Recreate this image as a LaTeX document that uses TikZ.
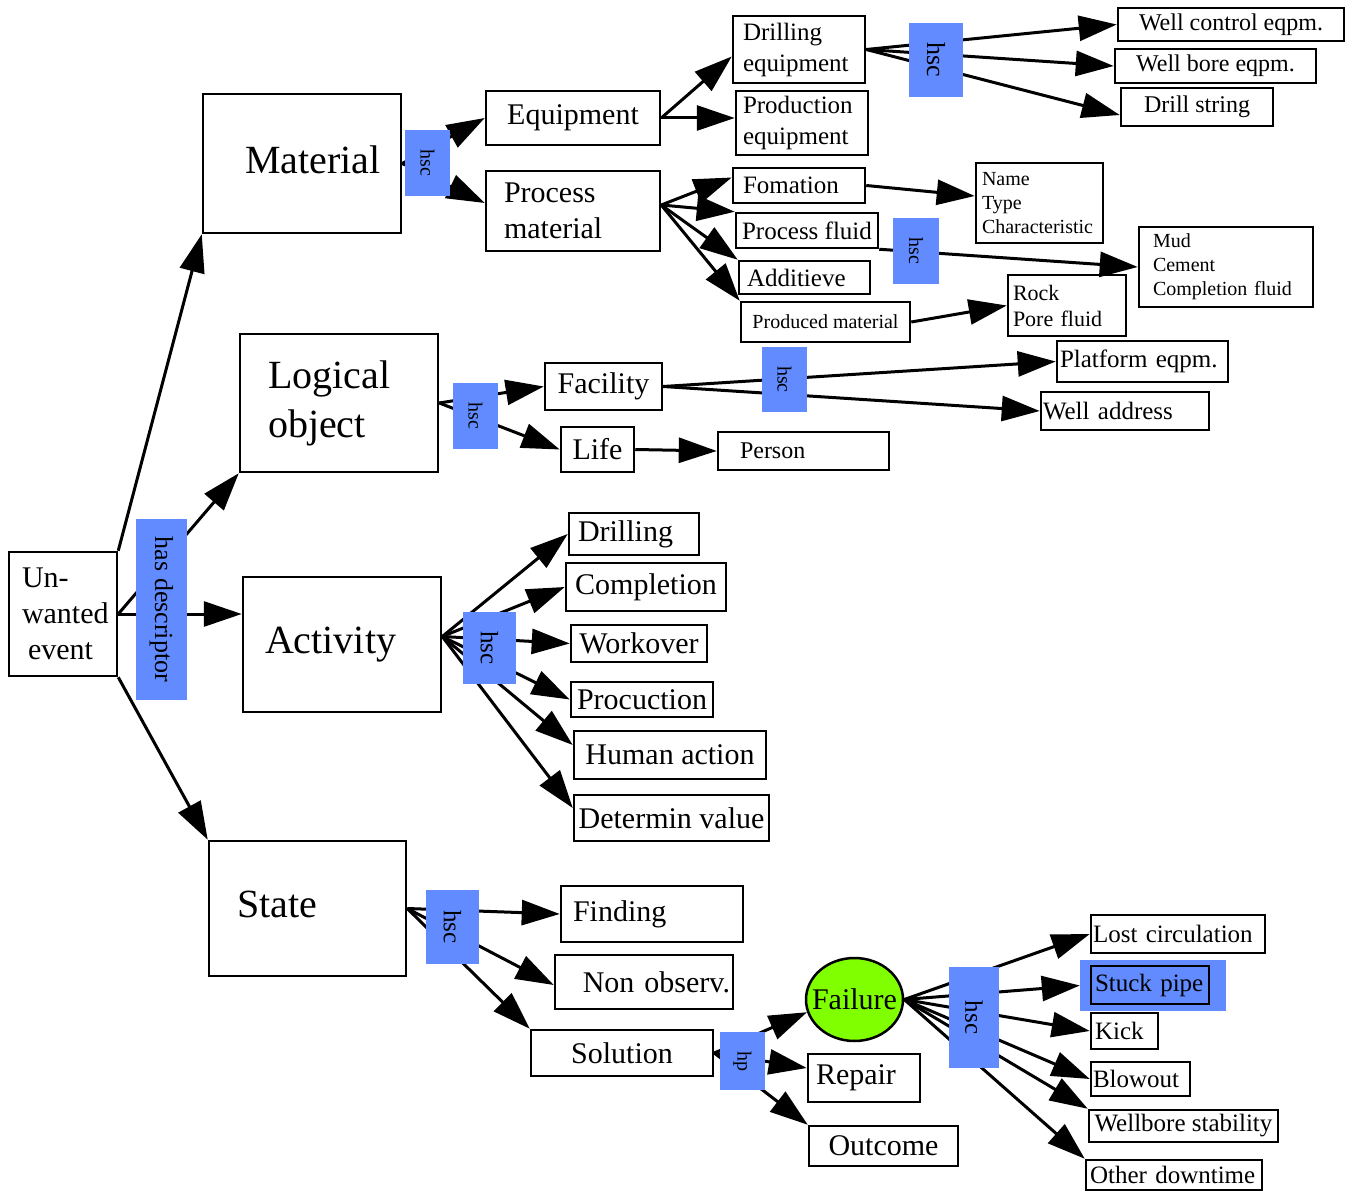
\documentclass[tikz,border=0pt]{standalone}
\usepackage{fontspec}
\setmainfont{Liberation Serif}
\usetikzlibrary{arrows.meta, shapes.geometric}
\definecolor{hscblue}{RGB}{97, 139, 255}
\definecolor{failgreen}{RGB}{127, 255, 0}
\newcommand{\fsz}[2]{\fontsize{#1pt}{#2pt}\selectfont}

\begin{document}
\begin{tikzpicture}[x=1pt, y=-1pt,
  box/.style={draw, line width=2.5pt, fill=white, inner sep=0pt, align=left},
  hscbox/.style={fill=hscblue, inner sep=0pt, rotate=-90},
  arr/.style={line width=3pt, -{Triangle[length=38pt, width=25pt]}}]
  \useasboundingbox[fill=white] (0,0) rectangle (1345,1198);

  % root and descriptors
  \node[box, text width=82pt, inner xsep=13pt, minimum height=124pt, font=\fsz{30}{36}] (ue) at (63,614) {Un-\\wanted\\\hspace*{6pt}event};
  \node[box, text width=114pt, inner xsep=42pt, minimum height=139pt, font=\fsz{40}{44}] (mat) at (302,163.5) {\raisebox{8pt}{Material}};
  \node[box, text width=142pt, inner xsep=28pt, minimum height=138pt, font=\fsz{40}{49}] (lo) at (339,403) {Logical\\object};
  \node[box, text width=154pt, inner xsep=22pt, minimum height=135pt, font=\fsz{40}{44}] (act) at (342,644.5) {Activity};
  \node[box, text width=141pt, inner xsep=28pt, minimum height=135pt, font=\fsz{40}{44}] (st) at (307.5,908.5) {\raisebox{9pt}{State}};

  % material
  \node[box, minimum width=174pt, minimum height=54pt, font=\fsz{30}{35}] (eq) at (573,118) {Equipment};
  \node[box, text width=138pt, inner xsep=18pt, minimum height=80pt, font=\fsz{30}{36}] (pm) at (573,211) {Process\\material};
  \node[box, text width=112pt, inner xsep=10pt, minimum height=67pt, font=\fsz{25}{31}] (de) at (799,49.5) {Drilling\\equipment};
  \node[box, text width=118pt, inner xsep=7pt, minimum height=64pt, font=\fsz{25}{31}] (pe) at (802,123) {Production\\equipment};
  \node[box, minimum width=226pt, minimum height=33pt, font=\fsz{24}{29}] (wc) at (1231,24.5) {Well control eqpm.};
  \node[box, minimum width=201pt, minimum height=34pt, font=\fsz{24}{29}] (wb) at (1215.5,66) {Well bore eqpm.};
  \node[box, minimum width=152pt, minimum height=38pt, font=\fsz{24}{29}] (ds) at (1197,107) {Drill string};
  \node[box, text width=112pt, inner xsep=10pt, minimum height=35pt, font=\fsz{25}{30}] (fo) at (799,185.5) {Fomation};
  \node[box, minimum width=142pt, minimum height=35pt, font=\fsz{25}{30}] (pf) at (807,230.5) {Process fluid};
  \node[box, text width=115pt, inner xsep=8pt, minimum height=33pt, font=\fsz{25}{30}] (ad) at (804.5,277.5) {Additieve};
  \node[box, minimum width=169pt, minimum height=40pt, font=\fsz{20}{24}] (pdm) at (825.5,322) {Produced material};
  \node[box, text width=115pt, inner xsep=6pt, minimum height=80pt, font=\fsz{20}{24}] (ntc) at (1039.5,203) {Name\\Type\\Characteristic};
  \node[box, text width=146pt, inner xsep=14pt, minimum height=80pt, font=\fsz{20}{24}] (mcc) at (1226,267) {Mud\\Cement\\Completion fluid};
  \node[box, text width=108pt, inner xsep=5pt, minimum height=61pt, font=\fsz{22}{26}] (rp) at (1067,305.5) {Rock\\Pore fluid};

  % logical object
  \node[box, minimum width=117pt, minimum height=47pt, font=\fsz{30}{35}] (fa) at (603.5,386.5) {Facility};
  \node[box, minimum width=73pt, minimum height=45pt, font=\fsz{30}{35}] (li) at (597.5,449.5) {Life};
  \node[box, text width=127pt, inner xsep=22pt, minimum height=38pt, font=\fsz{24}{29}] (pers) at (803.5,451) {Person};
  \node[box, text width=165pt, inner xsep=3pt, minimum height=41pt, font=\fsz{25}{30}] (pl) at (1142.5,361.5) {Platform eqpm.};
  \node[box, text width=164pt, inner xsep=2pt, minimum height=38pt, font=\fsz{25}{30}] (wa) at (1125,411) {Well address};

  % activity
  \node[box, text width=112pt, inner xsep=9pt, minimum height=42pt, font=\fsz{30}{35}] (dr) at (634,534) {Drilling};
  \node[box, minimum width=160pt, minimum height=48pt, font=\fsz{30}{35}] (co) at (646,587) {Completion};
  \node[box, minimum width=136pt, minimum height=37pt, font=\fsz{30}{35}] (wo) at (639,643.5) {Workover};
  \node[box, minimum width=142pt, minimum height=35pt, font=\fsz{30}{35}] (prc) at (642,699.5) {Procuction};
  \node[box, minimum width=192pt, minimum height=48pt, font=\fsz{30}{35}] (ha) at (670,755) {Human action};
  \node[box, minimum width=195pt, minimum height=46pt, font=\fsz{30}{35}] (dv) at (671.5,818) {Determin value};

  % state
  \node[box, text width=158pt, inner xsep=12pt, minimum height=56pt, font=\fsz{30}{35}] (fi) at (652,914) {Finding};
  \node[box, text width=172pt, inner xsep=3pt, align=right, minimum height=54pt, font=\fsz{30}{35}] (no) at (644,982) {Non observ.};
  \node[box, minimum width=182pt, minimum height=46pt, font=\fsz{30}{35}] (so) at (622,1053) {Solution};
  \node[ellipse, draw, line width=2.5pt, fill=failgreen, minimum width=97pt, minimum height=83pt, inner sep=0pt, font=\fsz{30}{35}] (fail) at (854.5,999.5) {\makebox[0pt]{Failure}};
  \node[box, text width=96pt, inner xsep=8pt, minimum height=48pt, font=\fsz{30}{35}] (re) at (864,1078) {Repair};
  \node[box, minimum width=149pt, minimum height=40pt, font=\fsz{30}{35}] (ou) at (883.5,1146) {Outcome};

  % failure kinds
  \node[box, text width=170pt, inner xsep=2pt, minimum height=38pt, font=\fsz{25}{30}] (lc) at (1178,934) {Lost circulation};
  \node[fill=hscblue, text width=116pt, inner xsep=15pt, inner ysep=0pt, minimum height=51pt, align=left, font=\fsz{25}{30}] (sp) at (1153,985.5) {Stuck pipe};
  \draw[line width=2.5pt] (1091,966) rectangle (1209,1004);
  \node[box, text width=59pt, inner xsep=4pt, minimum height=36pt, font=\fsz{25}{30}] (ki) at (1124.5,1031) {Kick};
  \node[box, text width=95pt, inner xsep=2pt, minimum height=34pt, font=\fsz{25}{30}] (bl) at (1140.5,1079) {Blowout};
  \node[box, minimum width=189pt, minimum height=32pt, font=\fsz{25}{30}] (wbs) at (1183.5,1126) {Wellbore stability};
  \node[box, text width=168pt, inner xsep=4pt, minimum height=30pt, font=\fsz{25}{30}] (od) at (1174,1175) {Other downtime};

  % connectors
  \draw[arr] (ue.north east) -- (mat.south west);
  \draw[arr] (ue.east) -- (lo.south west);
  \draw[arr] (ue.east) -- (ue.east -| act.west);
  \draw[arr] (ue.south east) -- (st.north west);

  \foreach \t in {(eq.west), ([yshift=8pt]pm.west)}
    \draw[arr] (mat.east) -- \t;
  \draw[arr] (eq.east) -- ([yshift=-7pt]de.west);
  \draw[arr] (eq.east) -- (eq.east -| pe.west);
  \foreach \t in {(wc.west), (wb.west), ([yshift=-8pt]ds.west)}
    \draw[arr] (de.east) -- \t;
  \foreach \t in {([yshift=8pt]fo.west), (pf.north west), (ad.north west), (pdm.north west)}
    \draw[arr] ([yshift=6pt]pm.east) -- \t;
  \draw[arr] (fo.east) -- ([yshift=7pt]ntc.west);
  \draw[arr] (pf.south east) -- (mcc.west);
  \draw[arr] (pdm.east) -- (rp.west);

  \foreach \t in {(fa.west), (li.west)}
    \draw[arr] (lo.east) -- \t;
  \foreach \t in {(pl.west), (wa.west)}
    \draw[arr] (fa.east) -- \t;
  \draw[arr] (li.east) -- (pers.west);

  \foreach \t in {(dr.west), (co.west), (wo.west), (prc.west), ([yshift=10pt]ha.west), ([yshift=10pt]dv.west)}
    \draw[arr] ([yshift=8pt]act.east) -- \t;

  \foreach \t in {(fi.west), ([yshift=-3pt]no.west), (so.north west)}
    \draw[arr] (st.east) -- \t;
  \foreach \t in {(fail.195), ([yshift=10pt]re.west), (ou.north west)}
    \draw[arr] (so.east) -- \t;
  \foreach \t in {(lc.west), (sp.west), (ki.west), (bl.west), (wbs.north west), (od.north west)}
    \draw[arr] (fail.east) -- \t;

  % edge labels
  \node[hscbox, minimum width=181pt, minimum height=51pt, font=\fsz{26}{30}] (hd) at (161.5,609.5) {has descriptor};
  \node[hscbox, minimum width=66pt, minimum height=45pt, font=\fsz{20}{24}] (hsc1) at (427.5,163) {hsc};
  \node[hscbox, minimum width=74pt, minimum height=54pt, font=\fsz{26}{30}] (hsc2) at (936,60) {hsc};
  \node[hscbox, minimum width=66pt, minimum height=46pt, font=\fsz{20}{24}] (hsc3) at (916,251) {hsc};
  \node[hscbox, minimum width=66pt, minimum height=45pt, font=\fsz{20}{24}] (hsc4) at (475.5,416) {hsc};
  \node[hscbox, minimum width=65pt, minimum height=45pt, font=\fsz{20}{24}] (hsc5) at (784.5,379.5) {hsc};
  \node[hscbox, minimum width=72pt, minimum height=53pt, font=\fsz{25}{30}] (hsc6) at (489.5,648) {hsc};
  \node[hscbox, minimum width=74pt, minimum height=53pt, font=\fsz{25}{30}] (hsc7) at (452.5,927) {hsc};
  \node[hscbox, minimum width=58pt, minimum height=45pt, font=\fsz{20}{24}] (hp) at (742.5,1061) {hp};
  \node[hscbox, minimum width=101pt, minimum height=50pt, font=\fsz{25}{30}] (hsc8) at (974,1017.5) {hsc};
\end{tikzpicture}
\end{document}
